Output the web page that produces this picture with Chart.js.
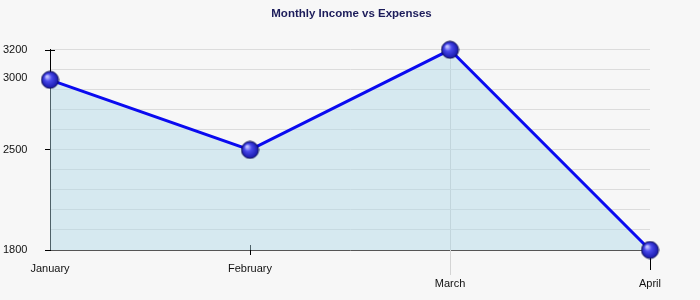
<!DOCTYPE html>
<html>
<head>
<meta charset="utf-8">
<script src="https://cdn.jsdelivr.net/npm/chart.js@4/dist/chart.umd.min.js"></script>
<style>
    html, body { margin: 0; padding: 0; background: #f7f7f7; }
    #wrap { width: 700px; height: 300px; }
</style>
</head>
<body>
<div id="wrap"><canvas id="chart"></canvas></div>
<script>
// Chart data
const months = ['January', 'February', 'March', 'April'];
const amounts = [2990, 2500, 3200, 1800];
const labelTicks = [1800, 2500, 3000, 3200];

// Axis range and gridline step
const yMin = 1800;
const yMax = 3200;
const gridStep = 140;

// Shiny ball used as the point marker
function makeBall(r) {
    const c = document.createElement('canvas');
    c.width = r * 2 + 2;
    c.height = r * 2 + 2;
    const g = c.getContext('2d');
    const cx = r + 1, cy = r + 1;
    const grad = g.createRadialGradient(cx - r * 0.35, cy - r * 0.4, 1, cx, cy, r);
    grad.addColorStop(0, '#c0c0ff');
    grad.addColorStop(0.35, '#4a4aec');
    grad.addColorStop(1, '#1515a8');
    g.beginPath();
    g.arc(cx, cy, r, 0, Math.PI * 2);
    g.fillStyle = grad;
    g.fill();
    g.lineWidth = 1;
    g.strokeStyle = '#0a0a50';
    g.stroke();
    return c;
}
const ball = makeBall(8.5);

// Little tick marks drawn the way the original chart has them
const extraTicks = {
    id: 'extraTicks',
    beforeDatasetsDraw(chart) {
        const { ctx, scales: { x, y } } = chart;
        const bottom = y.getPixelForValue(yMin);
        const top = y.getPixelForValue(yMax);
        ctx.save();
        ctx.lineWidth = 1;
        // 3200 tick crosses the axis
        ctx.strokeStyle = '#000';
        ctx.beginPath();
        ctx.moveTo(x.left - 5, Math.round(top) + 0.5);
        ctx.lineTo(x.left + 5, Math.round(top) + 0.5);
        // February tick
        const fx = Math.round(x.getPixelForValue(1)) + 0.5;
        ctx.moveTo(fx, bottom - 5);
        ctx.lineTo(fx, bottom + 5);
        // April tick
        const ax = Math.round(x.getPixelForValue(3)) + 0.5;
        ctx.moveTo(ax, bottom);
        ctx.lineTo(ax, bottom + 20);
        ctx.stroke();
        // March line carries on under the axis
        const mx = Math.round(x.getPixelForValue(2)) + 0.5;
        ctx.strokeStyle = '#d4d4d4';
        ctx.beginPath();
        ctx.moveTo(mx, bottom);
        ctx.lineTo(mx, bottom + 25);
        ctx.stroke();
        ctx.restore();
    }
};

const background = {
    id: 'background',
    beforeDraw(chart) {
        const { ctx, width, height } = chart;
        ctx.save();
        ctx.fillStyle = '#f7f7f7';
        ctx.fillRect(0, 0, width, height);
        ctx.restore();
    }
};

new Chart(document.getElementById('chart'), {
    type: 'line',
    data: {
        labels: months,
        datasets: [{
            label: 'Amount',
            data: amounts,
            borderColor: '#0a0af0',
            borderWidth: 3,
            backgroundColor: 'rgba(173, 216, 230, 0.45)',
            fill: 'start',
            tension: 0,
            clip: false,
            pointStyle: ball,
            pointRadius: 9,
            pointHoverRadius: 9
        }]
    },
    options: {
        responsive: true,
        maintainAspectRatio: false,
        animation: false,
        layout: { padding: { left: 3, right: 0, top: 0, bottom: 0 } },
        plugins: {
            legend: { display: false },
            tooltip: { enabled: false },
            title: {
                display: true,
                text: 'Monthly Income vs Expenses',
                color: '#1c1c5a',
                font: { family: 'Liberation Sans', size: 11.5, weight: 'bold' },
                padding: { top: 7, bottom: 29 }
            }
        },
        scales: {
            x: {
                offset: false,
                afterFit(scale) { scale.height = 50; },
                border: { display: true, color: '#555', width: 1 },
                grid: {
                    drawTicks: false,
                    color: (ctx) => ctx.index === 2 ? '#d4d4d4' : 'rgba(0,0,0,0)'
                },
                ticks: {
                    padding: 11,
                    color: '#111',
                    font: { family: 'Liberation Sans', size: 11, lineHeight: 1.4 },
                    maxRotation: 0,
                    autoSkip: false,
                    callback: function (value, index) {
                        const name = this.getLabelForValue(value);
                        return index >= 2 ? ['', name] : name;
                    }
                }
            },
            y: {
                min: yMin,
                max: yMax,
                afterBuildTicks(scale) {
                    const ticks = [];
                    for (let v = yMin; v <= yMax; v += gridStep) ticks.push({ value: v });
                    labelTicks.forEach(v => {
                        if (!ticks.some(t => t.value === v)) ticks.push({ value: v });
                    });
                    ticks.sort((a, b) => a.value - b.value);
                    scale.ticks = ticks;
                },
                afterFit(scale) { scale.width = 47; },
                border: { display: true, color: '#000', width: 1 },
                grid: {
                    tickLength: 5,
                    color: (ctx) => (ctx.tick && (ctx.tick.value - yMin) % gridStep === 0) ? '#dcdcdc' : 'rgba(0,0,0,0)',
                    tickColor: (ctx) => (ctx.tick && labelTicks.includes(ctx.tick.value) && ctx.tick.value !== yMax) ? '#000' : 'rgba(0,0,0,0)'
                },
                ticks: {
                    crossAlign: 'far',
                    color: '#111',
                    font: { family: 'Liberation Sans', size: 11 },
                    callback: (value) => labelTicks.includes(value) ? String(value) : ''
                }
            },
            // empty right-hand axis that keeps a 50px margin
            yRight: {
                position: 'right',
                min: yMin,
                max: yMax,
                afterFit(scale) { scale.width = 50; },
                border: { display: false },
                grid: { display: false, drawTicks: false },
                ticks: { display: false }
            }
        }
    },
    plugins: [background, extraTicks]
});
</script>
</body>
</html>
